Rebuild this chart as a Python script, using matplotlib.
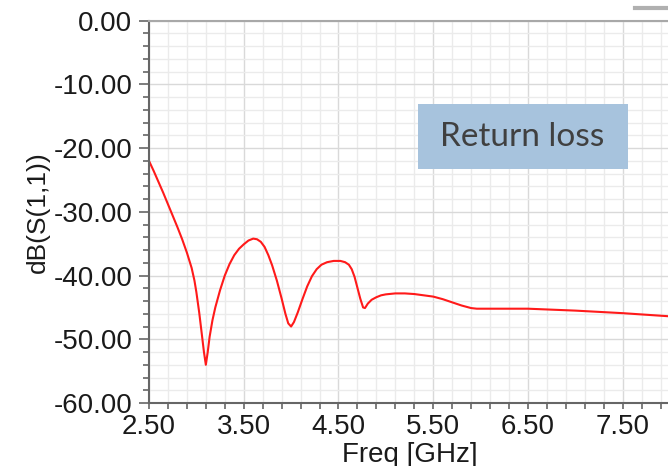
import numpy as np
import matplotlib.pyplot as plt
from matplotlib.patches import Rectangle
from matplotlib.lines import Line2D
from matplotlib.ticker import FormatStrFormatter

# S11 sweep, frequency in GHz and return loss in dB
freq = [2.50, 2.55, 2.60, 2.65, 2.70, 2.75, 2.80, 2.85, 2.90, 2.95,
        2.98, 3.00, 3.03, 3.06, 3.08, 3.10, 3.12, 3.14, 3.17, 3.20,
        3.25, 3.30, 3.35, 3.40, 3.45, 3.50, 3.55, 3.60, 3.64, 3.68,
        3.72, 3.76, 3.80, 3.85, 3.90, 3.94, 3.97, 4.00, 4.03, 4.07,
        4.12, 4.17, 4.22, 4.27, 4.32, 4.38, 4.45, 4.52, 4.57, 4.61,
        4.64, 4.67, 4.70, 4.73, 4.76, 4.78, 4.81, 4.85, 4.90, 4.95,
        5.00, 5.10, 5.20, 5.30, 5.40, 5.50, 5.60, 5.70, 5.80, 5.90,
        5.96, 6.50, 7.00, 7.50, 8.00]
s11_db = [-22.0, -23.6, -25.3, -27.0, -28.8, -30.6, -32.4, -34.3, -36.4, -38.8,
          -40.8, -42.6, -45.8, -49.5, -52.0, -54.0, -52.0, -49.6, -47.0, -45.0,
          -42.3, -40.0, -38.2, -36.8, -35.8, -35.1, -34.5, -34.2, -34.3, -34.7,
          -35.5, -36.8, -38.4, -40.8, -43.6, -46.0, -47.5, -48.0, -47.3, -45.8,
          -43.7, -41.7, -40.1, -39.0, -38.3, -37.9, -37.7, -37.7, -37.9, -38.3,
          -39.0, -40.2, -41.9, -43.6, -45.0, -45.1, -44.4, -43.8, -43.4, -43.1,
          -42.95, -42.8, -42.8, -42.9, -43.1, -43.3, -43.7, -44.2, -44.7, -45.1,
          -45.2, -45.2, -45.5, -45.9, -46.4]

xlim = (2.5, 8.0)
ylim = (-60, 0)
x_major = [2.5, 3.5, 4.5, 5.5, 6.5, 7.5]
x_minor_step = 0.2
y_major = [-60, -50, -40, -30, -20, -10, 0]
y_minor_step = 2

plt.rcParams['font.family'] = ['Liberation Sans', 'DejaVu Sans']

W, H = 668, 466
fig = plt.figure(figsize=(W / 100, H / 100), dpi=100)
ax = fig.add_axes([149 / W, 63 / H, 521 / W, 382.3 / H])

ax.plot(freq, s11_db, color='#ff1a1a', lw=1.5, solid_joinstyle='round',
        solid_capstyle='round')

ax.set_xlim(*xlim)
ax.set_ylim(*ylim)
ax.set_xticks(x_major)
ax.set_xticks(np.arange(xlim[0], xlim[1] + 1e-6, x_minor_step), minor=True)
ax.set_yticks(y_major)
ax.set_yticks(np.arange(ylim[0], ylim[1] + 1e-6, y_minor_step), minor=True)
ax.xaxis.set_major_formatter(FormatStrFormatter('%.2f'))
ax.yaxis.set_major_formatter(FormatStrFormatter('%.2f'))

ax.grid(which='major', color='#d9d9d9', lw=1.0)
ax.grid(which='minor', color='#ebebeb', lw=1.0)
ax.set_axisbelow(True)

ax.spines['right'].set_visible(False)
ax.spines['top'].set_color('#a8a8a8')
ax.spines['top'].set_linewidth(1.5)
for s in ('left', 'bottom'):
    ax.spines[s].set_color('#666666')
    ax.spines[s].set_linewidth(1.5)

ax.tick_params(axis='y', which='major', length=7, width=1.2, color='#666666',
               labelsize=20, pad=5, labelcolor='#1a1a1a')
ax.tick_params(axis='y', which='minor', length=4, width=1.2, color='#666666')
ax.tick_params(axis='x', which='major', length=4, width=1.2, color='#666666',
               labelsize=20, pad=4, labelcolor='#1a1a1a')
ax.tick_params(axis='x', which='minor', length=4, width=1.2, color='#666666')

ax.set_xlabel('Freq [GHz]', fontsize=20, color='#1a1a1a', labelpad=1)
ax.set_ylabel('dB(S(1,1))', fontsize=19, color='#1a1a1a')
ax.yaxis.set_label_coords(-0.19, 0.5)

# label box
fig.patches.append(Rectangle((418 / W, 1 - 169 / H), 210 / W, 65 / H,
                             transform=fig.transFigure, facecolor='#a7c3dd',
                             edgecolor='none', zorder=5))
fig.text(522 / W, 1 - 136.5 / H, 'Return loss', family=['Lato', 'DejaVu Sans'],
         fontsize=24, color='#404040', ha='center', va='center', zorder=6)

# legend stub at top right
fig.add_artist(Line2D([635 / W, 1.0], [1 - 8 / H, 1 - 8 / H],
                      transform=fig.transFigure, color='#b0b0b0', lw=3))

fig.savefig('out.png', dpi=100)
